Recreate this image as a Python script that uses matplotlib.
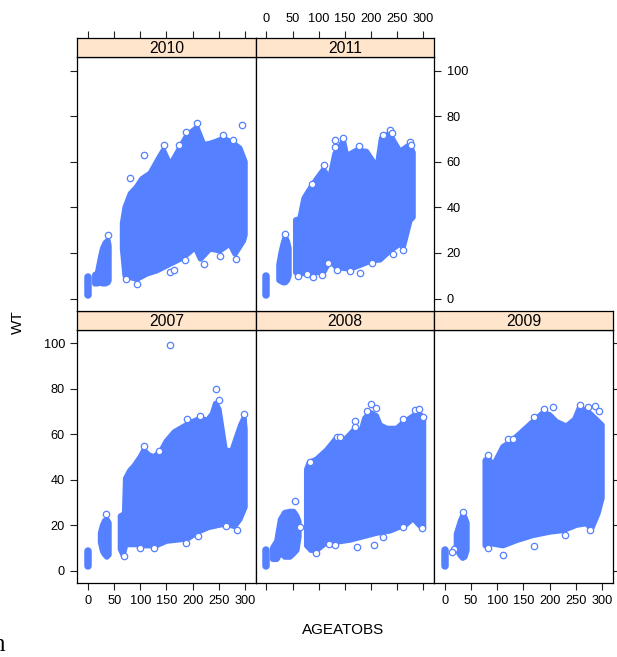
import matplotlib
matplotlib.use("Agg")
import matplotlib.pyplot as plt

plt.rcParams['font.family'] = ['Liberation Sans', 'DejaVu Sans']

W, H = 617, 657
BLUE = '#5580ff'
STRIP = '#ffe5cc'

years = ['2007', '2008', '2009', '2010', '2011']
x_ticks = [0, 50, 100, 150, 200, 250, 300]
y_ticks = [0, 20, 40, 60, 80, 100]
x_label = 'AGEATOBS'
y_label = 'WT'

# age-0 cluster (weight range) per year
infant_low = [2.0, 2.0, 2.0, 1.5, 1.5]
infant_high = [8.5, 9.0, 9.0, 9.5, 10.0]

# ---- 2007 ----
tod_age_2007 = [24, 28, 32, 36, 40]
tod_low_2007 = [12.5, 8.5, 7, 6, 7]
tod_high_2007 = [16.5, 20, 22, 22.5, 21]
top_age_2007 = [62, 70, 72, 80, 88, 100, 107, 115, 125, 138, 150, 165, 180, 195, 215, 228, 238, 244, 250, 256, 262, 275, 283, 292, 298, 300]
top_wt_2007 = [24, 25, 40.5, 44, 46, 50, 53, 51, 50, 52, 57, 61, 63, 65, 67, 66, 69, 73.5, 71, 62, 53, 52.5, 58, 64, 67, 62]
bot_age_2007 = [62, 67, 72, 90, 110, 130, 150, 170, 190, 210, 230, 250, 262, 280, 290, 300]
bot_wt_2007 = [9.5, 7, 11.5, 11.5, 11, 11, 13, 13.5, 14, 17, 19, 20, 20.5, 19.5, 22.5, 28]
out_age_2007 = [157, 245, 187, 211, 264, 284, 299, 35, 68, 135, 190, 214, 107, 250, 127, 100]
out_wt_2007 = [99.3, 79.8, 12, 15.2, 19.8, 17.9, 68.9, 24.9, 6.5, 52.8, 66.6, 68.2, 54.8, 75, 10, 9.8]

# ---- 2008 ----
tod_age_2008 = [12, 20, 27, 35, 45, 52, 58, 62]
tod_low_2008 = [5, 5, 8, 6, 6, 7.5, 9, 15]
tod_high_2008 = [10, 13, 22.5, 25.5, 26, 26, 24, 21.5]
top_age_2008 = [77, 82, 96, 115, 131, 140, 145, 160, 170, 180, 188, 198, 210, 217, 230, 249, 261, 274, 290, 300]
top_wt_2008 = [44.5, 47.5, 49, 53, 57.5, 57.5, 56.5, 60, 62.5, 60.5, 67, 69.5, 68, 64, 62.5, 62.5, 65, 67, 69.5, 67]
bot_age_2008 = [77, 85, 96, 115, 131, 160, 185, 210, 236, 268, 280, 292, 300]
bot_wt_2008 = [11, 9, 9, 12.5, 12.5, 13.5, 15, 16.5, 17.5, 20.5, 23, 20, 19]
out_age_2008 = [55.2, 64.7, 82.4, 94.5, 118.6, 131.3, 173.7, 205.5, 223, 261, 297, 134.4, 140.8, 169.3, 169.3, 191.5, 200.4, 209.3, 261, 283, 291, 299]
out_wt_2008 = [30.4, 19.4, 47.7, 7.6, 11.6, 11.3, 10.3, 11.3, 14.7, 19.4, 18.6, 58.9, 58.9, 66, 63.3, 70.4, 73.3, 71.7, 66.6, 70.7, 71.1, 67.7]

# ---- 2009 ----
tod_age_2009 = [22, 26, 30, 34, 38, 42]
tod_low_2009 = [11, 8, 6.5, 5.5, 6, 9]
tod_high_2009 = [16, 19, 22, 24, 23.5, 21]
top_age_2009 = [77, 83, 92, 111, 125, 137, 149, 168, 188, 200, 213, 232, 248, 257, 273, 289, 300]
top_wt_2009 = [48.5, 49.5, 46, 54.5, 56.5, 59, 61.5, 65.5, 69.5, 68.5, 65.5, 63.5, 66.5, 71.5, 70, 66.5, 64]
bot_age_2009 = [77, 86, 111, 137, 168, 200, 226, 251, 270, 280, 292, 300]
bot_wt_2009 = [11, 12, 11, 13.3, 15.5, 17, 17.7, 20, 20.7, 18.5, 25, 32]
out_age_2009 = [82.6, 17.2, 14, 111, 120.8, 130.3, 169.7, 188.8, 206.6, 258.7, 273.4, 286, 294, 170.4, 228.9, 276.5, 82.6, 35]
out_wt_2009 = [50.9, 9.4, 8.4, 6.9, 57.8, 57.8, 67.4, 70.9, 71.8, 72.9, 72.1, 72.4, 70, 11, 15.7, 17.9, 9.8, 25.7]

# ---- 2010 ----
tod_age_2010 = [13, 18, 24, 28, 33, 38, 40]
tod_low_2010 = [6.5, 6.5, 7, 6.5, 6.5, 7, 8]
tod_high_2010 = [10.5, 11, 18, 22, 24.5, 25.5, 23]
top_age_2010 = [66, 71, 81, 93, 103, 119, 135, 144, 157, 173, 189, 208, 221, 233, 246, 259, 278, 290, 300]
top_wt_2010 = [33, 40, 46, 49, 52.5, 55, 61.5, 65, 58.5, 65, 71.5, 75, 67.5, 68, 69, 70.3, 68, 66, 60]
bot_age_2010 = [66, 71, 93, 112, 132, 157, 182, 205, 215, 233, 252, 271, 281, 297, 300]
bot_wt_2010 = [22, 10, 8.5, 10.8, 12.3, 15.2, 18, 22.5, 17.4, 21.8, 21, 24, 19.6, 25.4, 28]
out_age_2010 = [80.7, 107.4, 144.3, 174.8, 187.5, 209, 293.7, 73.1, 93.5, 157, 164.7, 185.6, 222.5, 252.4, 282.3, 38.1, 258.7, 277.8]
out_wt_2010 = [52.9, 62.9, 67.3, 67.3, 73.1, 77, 76.3, 8.5, 6.6, 11.7, 12.4, 16.8, 15.1, 18.6, 17.5, 27.8, 71.6, 69.7]

# ---- 2011 ----
tod_age_2011 = [24, 28, 32, 36, 40, 43]
tod_low_2011 = [8, 7.5, 7, 7, 8, 10]
tod_high_2011 = [15, 20, 24, 27, 25, 22]
top_age_2011 = [56, 64, 72, 80, 96, 109, 121, 131, 147, 153, 172, 191, 204, 211, 220, 236, 242, 255, 274, 280]
top_wt_2011 = [34.5, 35, 44, 47, 52.5, 56.5, 52.5, 63.5, 69, 62.5, 65, 64.5, 60, 56.5, 70.3, 72.5, 69.5, 64.5, 67.5, 64]
bot_age_2011 = [56, 61, 83, 109, 121, 134, 160, 185, 201, 217, 236, 255, 261, 274, 280]
bot_wt_2011 = [11.5, 10.8, 11.5, 11.5, 16.7, 13.7, 13, 15.2, 16.7, 17, 21, 24, 22.5, 34.2, 35.7]
out_age_2011 = [35.6, 87.7, 110, 131, 131, 146.9, 177.4, 223, 235.9, 239, 274, 277, 61, 78, 89.6, 105.5, 118, 134, 159.6, 178.6, 200.9, 241, 261]
out_wt_2011 = [28.2, 50.4, 58.5, 66.5, 69.7, 70.6, 67, 71.6, 74.1, 72.4, 68.7, 67.3, 10, 10.9, 9.5, 10.2, 15.4, 12.4, 12.1, 11.4, 15.4, 19.4, 21.2]

series = {
    '2007': (tod_age_2007, tod_low_2007, tod_high_2007, top_age_2007, top_wt_2007, bot_age_2007, bot_wt_2007, out_age_2007, out_wt_2007),
    '2008': (tod_age_2008, tod_low_2008, tod_high_2008, top_age_2008, top_wt_2008, bot_age_2008, bot_wt_2008, out_age_2008, out_wt_2008),
    '2009': (tod_age_2009, tod_low_2009, tod_high_2009, top_age_2009, top_wt_2009, bot_age_2009, bot_wt_2009, out_age_2009, out_wt_2009),
    '2010': (tod_age_2010, tod_low_2010, tod_high_2010, top_age_2010, top_wt_2010, bot_age_2010, bot_wt_2010, out_age_2010, out_wt_2010),
    '2011': (tod_age_2011, tod_low_2011, tod_high_2011, top_age_2011, top_wt_2011, bot_age_2011, bot_wt_2011, out_age_2011, out_wt_2011),
}

# layout (pixels)
cols = [(77.3, 255.7), (255.7, 434.2), (434.2, 612.7)]
rows = {'top': (37.7, 57.3, 310.7), 'bottom': (310.7, 330.0, 582.7)}
placement = {'2007': (0, 'bottom'), '2008': (1, 'bottom'), '2009': (2, 'bottom'),
             '2010': (0, 'top'), '2011': (1, 'top')}
# which axes show: (left, labelleft, right, labelright, bottom, labelbottom, top, labeltop)
tick_cfg = {
    '2007': (True, True, False, False, True, True, False, False),
    '2008': (False, False, False, False, True, False, False, False),
    '2009': (False, False, True, False, True, True, False, False),
    '2010': (True, False, False, False, False, False, True, False),
    '2011': (False, False, True, True, False, False, True, True),
}

x_lim = (-20.5, 320.5)
y_lim = (-5.3, 105.8)
TICKLEN = 4.7
TICKPAD = 4.2
TICKFS = 9.2
EDGE = '#222222'

fig = plt.figure(figsize=(W / 100, H / 100), dpi=100)


def rect(x0, y0, x1, y1):
    return [x0 / W, 1 - y1 / H, (x1 - x0) / W, (y1 - y0) / H]


for i, yr in enumerate(years):
    c, r = placement[yr]
    x0, x1 = cols[c]
    s0, s1, p1 = rows[r]
    L, LL, R, RL, B, BL, T, TL = tick_cfg[yr]

    ax = fig.add_axes(rect(x0, s1, x1, p1))
    ax.set_xlim(*x_lim)
    ax.set_ylim(*y_lim)
    ax.set_xticks(x_ticks)
    ax.set_yticks(y_ticks)
    ax.tick_params(direction='out', length=TICKLEN, width=0.8, color=EDGE,
                   labelsize=TICKFS, pad=TICKPAD,
                   left=L, labelleft=LL, right=R, labelright=RL,
                   bottom=B, labelbottom=BL, top=False, labeltop=False)
    for sp in ax.spines.values():
        sp.set_linewidth(0.9)
        sp.set_color('black')

    ta, tl, th, ma, mt, ba, bw, oa, ow = series[yr]
    # main mass
    xs = list(ma) + list(ba)[::-1]
    ys = list(mt) + list(bw)[::-1]
    ax.fill(xs, ys, facecolor=BLUE, edgecolor=BLUE, lw=4.0, joinstyle='round', zorder=2)
    # toddler cluster
    xs = list(ta) + list(ta)[::-1]
    ys = list(th) + list(tl)[::-1]
    ax.fill(xs, ys, facecolor=BLUE, edgecolor=BLUE, lw=4.0, joinstyle='round', zorder=2)
    # infant cluster at age 0
    ax.plot([0, 0], [infant_low[i], infant_high[i]], color=BLUE, lw=5.4,
            solid_capstyle='round', zorder=2)
    # scattered individual points
    ax.plot(oa, ow, 'o', mfc='white', mec=BLUE, ms=4.6, mew=0.9, zorder=3,
            linestyle='none')

    # strip
    sx = fig.add_axes(rect(x0, s0, x1, s1))
    sx.set_facecolor(STRIP)
    sx.set_xlim(*x_lim)
    sx.set_ylim(0, 1)
    sx.set_xticks(x_ticks)
    sx.set_yticks([])
    sx.tick_params(direction='out', length=TICKLEN, width=0.8, color=EDGE,
                   labelsize=TICKFS, pad=TICKPAD,
                   bottom=False, labelbottom=False, top=T, labeltop=TL)
    for sp in sx.spines.values():
        sp.set_linewidth(0.9)
        sp.set_color('black')
    sx.text(0.5, 0.45, yr, transform=sx.transAxes, ha='center', va='center',
            fontsize=11.3)

fig.text(343 / W, 1 - 630 / H, x_label, ha='center', va='center', fontsize=11)
fig.text(18 / W, 1 - 322 / H, y_label, ha='center', va='center', fontsize=11,
         rotation=90)
fig.text(4.5 / W, 1 - 651 / H, 'n', ha='right', va='baseline', fontsize=18,
         family=['Liberation Serif', 'DejaVu Serif'])

fig.savefig('out.png', dpi=100)
